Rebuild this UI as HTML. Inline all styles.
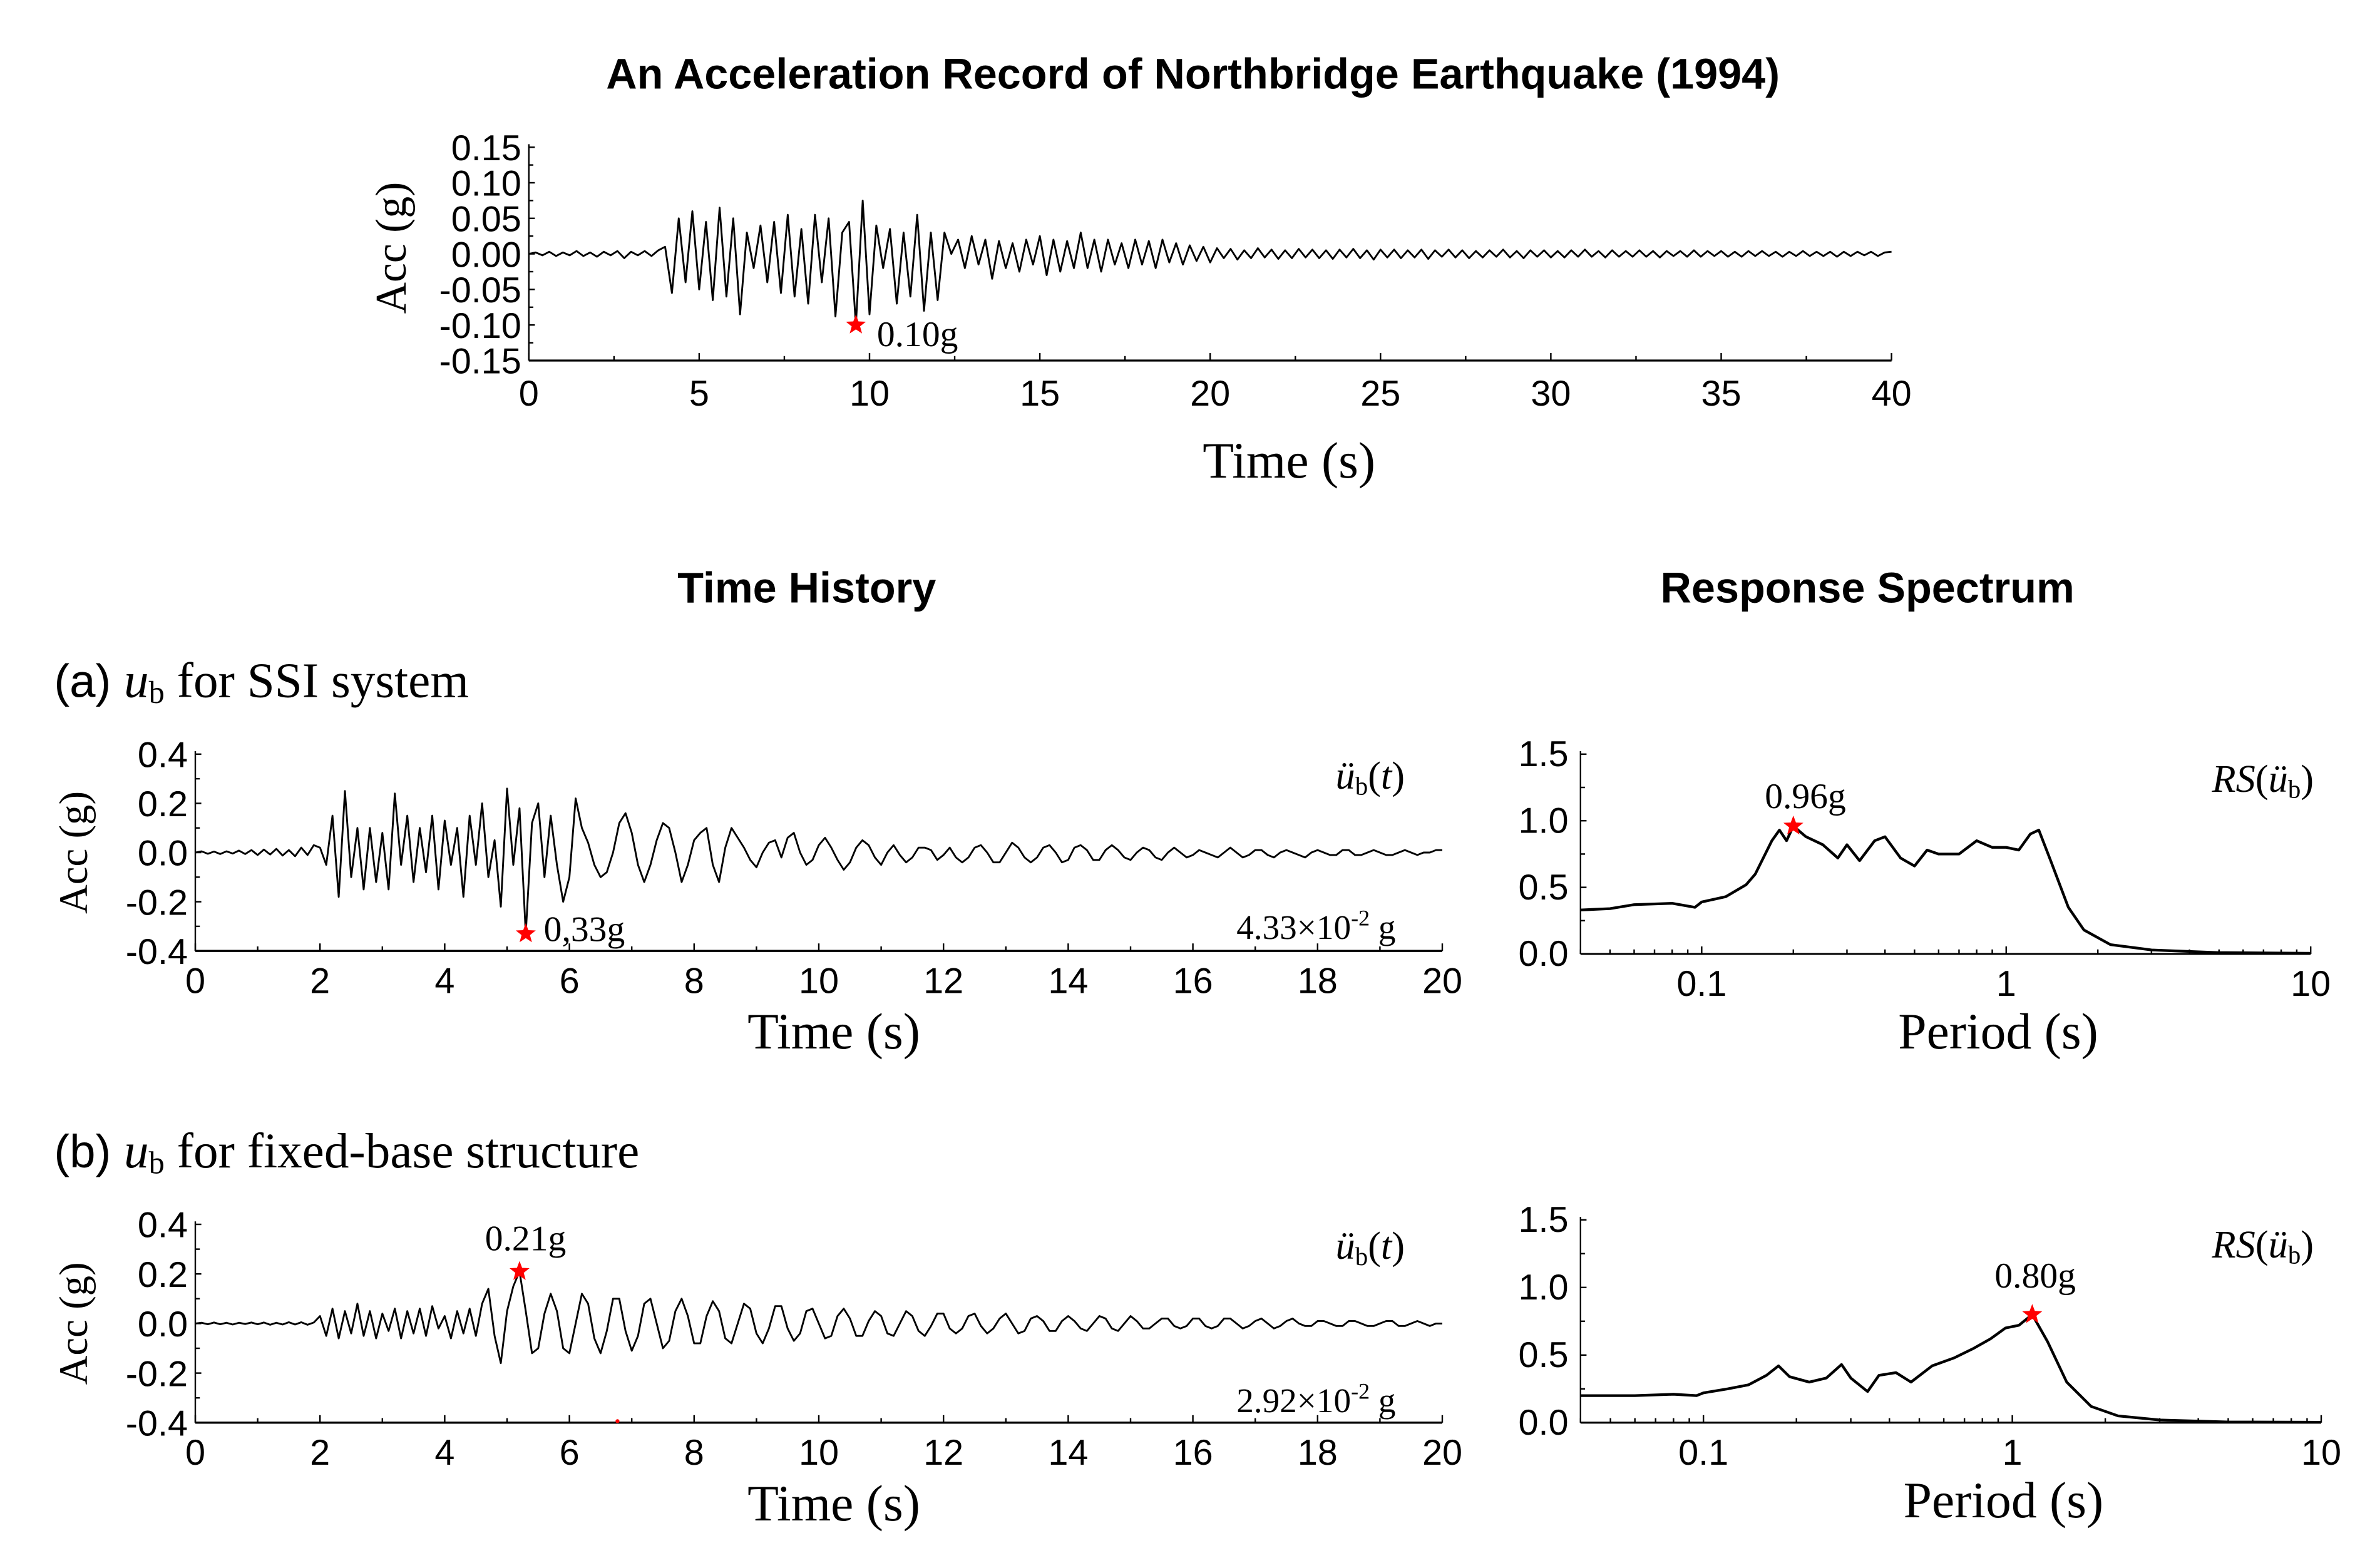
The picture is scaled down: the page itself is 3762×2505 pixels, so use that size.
<!DOCTYPE html>
<html><head><meta charset="utf-8">
<style>
html,body{margin:0;padding:0;background:#fff;}
svg{display:block;}
.sans{font-family:"Liberation Sans",Arial,sans-serif;}
.serif{font-family:"Liberation Serif","Times New Roman",serif;}
</style></head>
<body>
<svg id="fig" width="3762" height="2505" viewBox="0 0 1567.5 1043.75" xmlns="http://www.w3.org/2000/svg">
<text class="sans" x="794" y="59" font-size="28.5" font-weight="bold" text-anchor="middle">An Acceleration Record of Northbridge Earthquake (1994)</text>
<text class="sans" x="537" y="401" font-size="28.5" font-weight="bold" text-anchor="middle">Time History</text>
<text class="sans" x="1243" y="401" font-size="28.5" font-weight="bold" text-anchor="middle">Response Spectrum</text>
<text x="36" y="464" font-size="33"><tspan class="sans" font-size="31">(a) </tspan><tspan class="serif" font-style="italic">u</tspan><tspan class="serif" font-size="21" dy="4">b</tspan><tspan class="serif" dy="-4"> for SSI system</tspan></text>
<text x="36" y="777" font-size="33"><tspan class="sans" font-size="31">(b) </tspan><tspan class="serif" font-style="italic">u</tspan><tspan class="serif" font-size="21" dy="4">b</tspan><tspan class="serif" dy="-4"> for fixed-base structure</tspan></text>
<g id="charts"></g>
</svg>
<script>
const NS="http://www.w3.org/2000/svg";
// ---- data ----
const topDt=0.2;
const topAcc=[0,0.002,-0.002,0.003,-0.003,0.002,-0.002,0.004,-0.003,0.002,-0.004,0.003,-0.002,0.004,-0.006,0.003,-0.002,0.004,-0.003,0.005,
0.01,-0.055,0.05,-0.04,0.06,-0.05,0.045,-0.065,0.065,-0.06,0.05,-0.085,0.03,-0.02,0.04,-0.04,0.045,-0.055,0.055,-0.06,0.035,-0.07,0.055,-0.04,0.05,-0.088,0.03,0.045,-0.1,0.075,-0.085,0.04,-0.02,0.035,-0.07,0.03,-0.06,0.055,-0.08,0.03,-0.065,0.03,0.0,
0.02,-0.02,0.025,-0.015,0.02,-0.035,0.018,-0.02,0.015,-0.025,0.02,-0.015,0.025,-0.03,0.02,-0.025,0.018,-0.02,0.03,-0.02,0.02,-0.025,0.02,-0.015,0.015,-0.02,0.02,-0.015,0.018,-0.02,0.02,-0.012,0.015,-0.015,0.012,-0.01,0.01,-0.012,
0.008,-0.006,0.007,-0.008,0.005,-0.006,0.008,-0.005,0.006,-0.007,0.005,-0.006,0.007,-0.005,0.006,-0.006,0.005,-0.007,0.006,-0.005,
0.007,-0.006,0.005,-0.008,0.006,-0.005,0.006,-0.006,0.005,-0.005,0.006,-0.007,0.005,-0.004,0.006,-0.005,0.005,-0.006,0.004,-0.005,
0.005,-0.004,0.006,-0.005,0.004,-0.006,0.005,-0.004,0.005,-0.005,0.004,-0.005,0.005,-0.004,0.006,-0.004,0.004,-0.005,0.005,-0.004,
0.004,-0.004,0.005,-0.004,0.004,-0.005,0.004,-0.003,0.004,-0.004,0.005,-0.004,0.004,-0.003,0.004,-0.004,0.003,-0.004,0.004,-0.003,
0.004,-0.003,0.003,-0.004,0.003,-0.003,0.004,-0.003,0.003,-0.003,0.003,-0.004,0.003,-0.003,0.003,-0.002,0.003,-0.003,0.002,0.003];
const thDt=0.1;
const ssiAcc=[0,0.005,-0.005,0.004,-0.006,0.005,-0.004,0.008,-0.006,0.01,-0.01,0.012,-0.008,0.015,-0.012,0.01,-0.015,0.02,-0.01,0.03,
0.02,-0.05,0.15,-0.18,0.25,-0.1,0.1,-0.15,0.1,-0.12,0.08,-0.15,0.24,-0.05,0.15,-0.12,0.1,-0.08,0.15,-0.15,
0.13,-0.05,0.1,-0.18,0.15,-0.05,0.2,-0.1,0.05,-0.22,0.26,-0.05,0.18,-0.33,0.12,0.2,-0.1,0.15,-0.05,-0.2,
-0.1,0.22,0.1,0.04,-0.05,
-0.1,-0.08,0.0,0.12,0.16,0.08,-0.05,-0.12,-0.05,0.05,0.12,0.1,0.0,-0.12,-0.05,0.05,0.08,0.1,-0.05,-0.12,
0.02,0.1,0.06,0.02,-0.03,-0.06,0.0,0.04,0.05,-0.02,0.06,0.08,0.0,-0.05,-0.03,
0.03,0.06,0.02,-0.03,-0.07,-0.04,0.02,0.05,0.03,-0.02,-0.05,0.0,0.03,-0.01,-0.04,-0.02,0.02,0.02,0.01,-0.03,
-0.01,0.02,-0.02,-0.04,-0.02,0.02,0.03,0.0,-0.04,-0.04,0.0,0.04,0.02,-0.02,-0.04,-0.02,0.02,0.03,0.0,-0.04,
-0.03,0.02,0.03,0.01,-0.03,-0.03,0.01,0.03,0.01,-0.02,-0.03,0.0,0.02,0.01,-0.02,-0.03,0.0,0.02,0.0,-0.02,
-0.01,0.01,0.0,-0.01,-0.02,0.0,0.02,0.0,-0.02,-0.01,0.01,0.01,-0.01,-0.02,0.0,0.01,0.0,-0.01,-0.02,0.0,
0.01,0.0,-0.01,-0.01,0.01,0.01,-0.01,-0.01,0.0,0.01,0.0,-0.01,-0.01,0.0,0.01,0.0,-0.01,0.0,0.0,0.01,0.01];
const fixAcc=[0,0.003,-0.003,0.004,-0.003,0.003,-0.004,0.003,-0.002,0.004,-0.003,0.004,-0.005,0.003,-0.004,0.005,-0.004,0.005,-0.005,0.004,
0.03,-0.05,0.06,-0.06,0.05,-0.04,0.08,-0.05,0.05,-0.06,0.04,-0.03,0.06,-0.06,0.05,-0.04,0.06,-0.05,0.07,-0.02,0.03,-0.06,0.05,-0.04,0.06,-0.05,0.08,0.14,-0.05,-0.16,
0.05,0.15,0.21,0.05,-0.12,-0.1,0.04,0.12,0.05,-0.1,-0.12,0.0,0.12,0.08,-0.06,-0.12,-0.03,0.1,0.1,-0.03,
-0.11,-0.05,0.08,0.1,0.0,-0.1,-0.07,0.05,0.1,0.03,-0.08,-0.08,0.03,0.09,0.05,-0.06,-0.08,0.0,0.08,0.06,
-0.04,-0.08,-0.02,0.07,0.07,-0.02,-0.07,-0.04,0.05,0.06,
0.0,-0.06,-0.05,0.03,0.06,0.02,-0.05,-0.05,0.01,0.05,0.03,-0.04,-0.05,0.0,0.05,0.03,-0.03,-0.05,-0.01,0.04,
0.04,-0.02,-0.04,-0.02,0.03,0.04,-0.01,-0.04,-0.02,0.02,0.04,0.0,-0.04,-0.03,0.02,0.03,0.01,-0.03,-0.03,0.01,
0.03,0.01,-0.02,-0.03,0.0,0.03,0.02,-0.02,-0.03,0.0,0.03,0.01,-0.02,-0.02,0.0,0.02,0.02,-0.01,-0.02,-0.01,
0.02,0.02,-0.01,-0.02,-0.01,0.02,0.02,0.0,-0.02,-0.01,0.01,0.02,0.0,-0.02,-0.01,0.01,0.02,0.0,-0.01,-0.01,
0.01,0.01,0.0,-0.01,-0.01,0.01,0.01,0.0,-0.01,-0.01,0.0,0.01,0.01,-0.01,-0.01,0.0,0.01,0.0,-0.01,0.0,0.0];
const rsPeriodA=[0.04,0.05,0.06,0.08,0.095,0.1,0.12,0.14,0.15,0.17,0.18,0.19,0.2,0.22,0.25,0.28,0.3,0.33,0.37,0.4,0.45,0.5,0.55,0.6,0.7,0.8,0.9,1.0,1.1,1.2,1.28,1.4,1.6,1.8,2.2,3,5,10];
const rsValueA=[0.33,0.34,0.37,0.38,0.35,0.39,0.43,0.52,0.6,0.85,0.93,0.85,0.96,0.88,0.82,0.72,0.82,0.7,0.85,0.88,0.72,0.66,0.78,0.75,0.75,0.85,0.8,0.8,0.78,0.9,0.93,0.7,0.35,0.18,0.07,0.03,0.01,0.005];
const rsPeriodB=[0.04,0.06,0.08,0.095,0.1,0.12,0.14,0.16,0.175,0.19,0.22,0.25,0.28,0.3,0.34,0.37,0.42,0.47,0.55,0.65,0.75,0.85,0.95,1.05,1.16,1.3,1.5,1.8,2.2,3,5,10];
const rsValueB=[0.2,0.2,0.21,0.2,0.22,0.25,0.28,0.35,0.42,0.34,0.3,0.33,0.43,0.33,0.23,0.35,0.37,0.3,0.42,0.48,0.55,0.62,0.7,0.72,0.8,0.6,0.3,0.12,0.05,0.02,0.005,0.003];
const topTicksX=[0,5,10,15,20,25,30,35,40];
const topTicksY=[0.15,0.10,0.05,0.00,-0.05,-0.10,-0.15];
const thTicksX=[0,2,4,6,8,10,12,14,16,18,20];
const thTicksY=[0.4,0.2,0.0,-0.2,-0.4];
const rsTicksX=[0.1,1,10];
const rsTicksY=[0,0.5,1.0,1.5];

const root=document.getElementById('charts');
function el(tag,attrs,parent){const e=document.createElementNS(NS,tag);for(const k in attrs)e.setAttribute(k,attrs[k]);(parent||root).appendChild(e);return e;}
function txt(s,attrs,parent){const e=el('text',attrs,parent);e.textContent=s;return e;}
function tsp(parent,s,attrs){const e=el('tspan',attrs||{},parent);e.textContent=s;return e;}
function star(cx,cy,r,parent){let p=[];for(let i=0;i<10;i++){const a=-Math.PI/2+i*Math.PI/5;const rr=i%2?r*0.42:r;p.push((cx+rr*Math.cos(a)).toFixed(2)+','+(cy+rr*Math.sin(a)).toFixed(2));}
 const s=el('polygon',{points:p.join(' '),fill:'#f00'},parent);
 
 return s;}

function linAxes(o){
 const g=el('g',{});
 
 
 const sx=v=>o.x0+(v-o.xmin)/(o.xmax-o.xmin)*(o.x1-o.x0);
 const sy=v=>o.y1-(v-o.ymin)/(o.ymax-o.ymin)*(o.y1-o.y0);
 el('line',{x1:o.x0,y1:o.y0-2,x2:o.x0,y2:o.y1,stroke:'#000','stroke-width':1},g);
 el('line',{x1:o.x0,y1:o.y1,x2:o.x1,y2:o.y1,stroke:'#000','stroke-width':1.4},g);
 o.ticksX.forEach((v,i)=>{const x=sx(v);el('line',{x1:x,y1:o.y1,x2:x,y2:o.y1-5,stroke:'#000'},g);
  if(i<o.ticksX.length-1){const xm=sx(v+(o.ticksX[1]-o.ticksX[0])/2);el('line',{x1:xm,y1:o.y1,x2:xm,y2:o.y1-3,stroke:'#000'},g);}
  const t=txt(String(v),{x:x,y:o.y1+o.xlabDy,'font-size':o.fs,'text-anchor':'middle',class:'sans'},g);
  });
 o.ticksY.forEach((v,i)=>{const y=sy(v);el('line',{x1:o.x0,y1:y,x2:o.x0+4,y2:y,stroke:'#000'},g);
  if(i<o.ticksY.length-1){const ym=sy(v-(o.ticksY[0]-o.ticksY[1])/2);el('line',{x1:o.x0,y1:ym,x2:o.x0+3,y2:ym,stroke:'#000'},g);}
  const t=txt(v.toFixed(o.yd),{x:o.x0-5,y:y+o.fs*0.36,'font-size':o.fs,'text-anchor':'end',class:'sans'},g);
  });
 return {g,sx,sy};
}
function series(ax,dt,vals,name){let d='';vals.forEach((v,i)=>{d+=(i?'L':'M')+ax.sx(i*dt).toFixed(2)+','+ax.sy(v).toFixed(2);});
 const p=el('path',{d:d,fill:'none',stroke:'#000','stroke-width':1.2,'stroke-linejoin':'round'},ax.g);
 }
function argExt(vals,min){let k=0;vals.forEach((v,i)=>{if(min?v<vals[k]:v>vals[k])k=i;});return k;}

// top chart
const topAx=linAxes({name:'record-chart',x0:352,x1:1259,y0:98,y1:240,xmin:0,xmax:40,ymin:-0.15,ymax:0.15,ticksX:topTicksX,ticksY:topTicksY,fs:24,yd:2,xlabDy:30});
series(topAx,topDt,topAcc,'record-acc-line');
{const k=argExt(topAcc,true);star(topAx.sx(k*topDt),topAx.sy(topAcc[k]),7,topAx.g);
 const t=txt(Math.abs(topAcc[k]).toFixed(2)+'g',{x:topAx.sx(k*topDt)+14,y:topAx.sy(topAcc[k])+14,'font-size':24,class:'serif'},topAx.g);}
{const t=txt('Acc (g)',{x:0,y:0,'font-size':29,class:'serif','text-anchor':'middle',transform:'translate(270,165) rotate(-90)'});}
{const t=txt('Time (s)',{x:858,y:318,'font-size':34,class:'serif','text-anchor':'middle'});}

function thChart(y0,y1,vals,name,peakMin,labOff,noteText,noteY){
 const ax=linAxes({name:name,x0:130,x1:960,y0:y0,y1:y1,xmin:0,xmax:20,ymin:-0.4,ymax:0.4,ticksX:thTicksX,ticksY:thTicksY,fs:24,yd:1,xlabDy:28});
 series(ax,thDt,vals,name+'-line');
 const k=argExt(vals.map(Math.abs),false);const px=ax.sx(k*thDt),py=ax.sy(vals[k]);
 star(px,py,7,ax.g);
 const t=txt((peakMin?'0,':'0.')+Math.round(Math.abs(vals[k])*100)+'g',{x:px+labOff[0],y:py+labOff[1],'font-size':24,class:'serif','text-anchor':labOff[2]},ax.g);
 
 const s=el('text',{x:935,y:y0+23,'font-size':26,class:'serif','text-anchor':'end'},ax.g);
 tsp(s,'ü',{'font-style':'italic'});tsp(s,'b',{'font-size':17,dy:4});tsp(s,'(',{dy:-4});tsp(s,'t',{'font-style':'italic'});tsp(s,')');
 
 const n=el('text',{x:823,y:noteY,'font-size':23,class:'serif'},ax.g);
 tsp(n,noteText+'×10');tsp(n,'-2',{'font-size':15,dy:-9});tsp(n,' g',{dy:9});
 
 const a=txt('Acc (g)',{x:0,y:0,'font-size':27,class:'serif','text-anchor':'middle',transform:'translate(58,'+((y0+y1)/2)+') rotate(-90)'});
 const b=txt('Time (s)',{x:555,y:y1+65,'font-size':34,class:'serif','text-anchor':'middle'});
 return ax;
}
thChart(502,633,ssiAcc,'ssi-time-history',true,[12,5,'start'],'4.33',625);
thChart(815,947,fixAcc,'fixed-time-history',false,[4,-14,'middle'],'2.92',940);
{const d=el('circle',{cx:411,cy:946,r:1.3,fill:'#f00'});}

function rsChart(x0,x1,y0,y1,per,val,name,labOff){
 const g=el('g',{});
 const lmin=Math.log10(0.04),lmax=1;
 const sx=v=>x0+(Math.log10(v)-lmin)/(lmax-lmin)*(x1-x0);
 const sy=v=>y1-v/1.5*(y1-y0);
 el('line',{x1:x0,y1:y0-2,x2:x0,y2:y1,stroke:'#000'},g);
 el('line',{x1:x0,y1:y1,x2:x1,y2:y1,stroke:'#000','stroke-width':1.3},g);
 for(let dec=-2;dec<=0;dec++)for(let m=1;m<=9;m++){const v=m*Math.pow(10,dec);if(v<0.04)continue;const x=sx(v);el('line',{x1:x,y1:y1,x2:x,y2:y1-(m==1?5:3),stroke:'#000'},g);}
 el('line',{x1:sx(10),y1:y1,x2:sx(10),y2:y1-5,stroke:'#000'},g);
 rsTicksX.forEach(v=>{const t=txt(String(v),{x:sx(v),y:y1+28,'font-size':24,'text-anchor':'middle',class:'sans'},g);});
 rsTicksY.forEach((v,i)=>{const y=sy(v);el('line',{x1:x0,y1:y,x2:x0+4,y2:y,stroke:'#000'},g);
  if(i<rsTicksY.length-1)el('line',{x1:x0,y1:sy(v+0.25),x2:x0+3,y2:sy(v+0.25),stroke:'#000'},g);
  const t=txt(v.toFixed(1),{x:x0-8,y:y+8,'font-size':24,'text-anchor':'end',class:'sans'},g);});
 let d='';per.forEach((p,i)=>{d+=(i?'L':'M')+sx(p).toFixed(2)+','+sy(val[i]).toFixed(2);});
 const p=el('path',{d:d,fill:'none',stroke:'#000','stroke-width':1.8,'stroke-linejoin':'round'},g);
 const k=argExt(val,false);star(sx(per[k]),sy(val[k]),7,g);
 const t=txt(val[k].toFixed(2)+'g',{x:sx(per[k])+labOff[0],y:sy(val[k])+labOff[1],'font-size':24,class:'serif','text-anchor':'middle'},g);
 const s=el('text',{x:1540,y:y0+25,'font-size':26,class:'serif','text-anchor':'end'},g);
 tsp(s,'RS',{'font-style':'italic'});tsp(s,'(');tsp(s,'ü',{'font-style':'italic'});tsp(s,'b',{'font-size':17,dy:4});tsp(s,')',{dy:-4});
 
 const b=txt('Period (s)',{x:(x0+x1)/2+35,y:y1+63,'font-size':34,class:'serif','text-anchor':'middle'});
}
rsChart(1052,1538,502,635,rsPeriodA,rsValueA,'ssi-response-spectrum',[8,-12]);
rsChart(1052,1545,812,947,rsPeriodB,rsValueB,'fixed-response-spectrum',[2,-18]);
</script>
</body></html>
